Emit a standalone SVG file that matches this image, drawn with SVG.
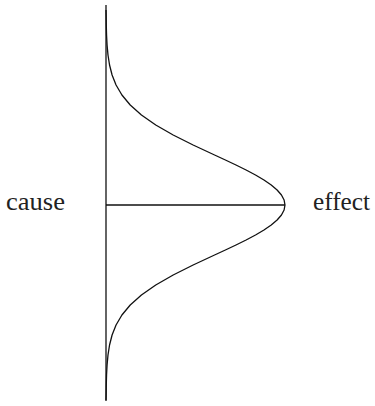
<svg xmlns="http://www.w3.org/2000/svg" width="375" height="406" viewBox="0 0 375 406">
<style>
.ln{fill:none;stroke:#111;stroke-width:1.3;stroke-linejoin:round;stroke-linecap:butt}
.lbl{font-family:"Liberation Serif",serif;font-size:26px;fill:#222}
</style>
<rect width="375" height="406" fill="#fff"/>
<g id="connectors">
<line class="ln" x1="106" y1="5" x2="106" y2="401"/>
<line class="ln" x1="106" y1="205" x2="285" y2="205"/>
<path class="ln" d="M106,10 L106.13,15 L106.27,25 L106.55,35 L107.07,45 L107.99,55 L109.55,65 L112.09,75 L116.05,85 L121.92,95 L130.23,105 L141.43,115 L155.76,125 L173.18,135 L193.13,145 L214.57,155 L225.4,160 L235.98,165 L246.1,170 L255.52,175 L263.97,180 L271.24,185 L277.1,190 L281.46,195 L284.1,200 L285,205 L284.1,210 L281.46,215 L277.1,220 L271.24,225 L263.97,230 L255.52,235 L246.1,240 L235.98,245 L225.4,250 L214.57,255 L193.13,265 L173.18,275 L155.76,285 L141.43,295 L130.23,305 L121.92,315 L116.05,325 L112.09,335 L109.55,345 L107.99,355 L107.07,365 L106.55,375 L106.27,385 L106.13,395 L106,400"/>
</g>
<g id="cause"><text class="lbl" x="6" y="210" textLength="59" lengthAdjust="spacingAndGlyphs">cause</text></g>
<g id="effect"><text class="lbl" x="313" y="210" textLength="57" lengthAdjust="spacingAndGlyphs">effect</text></g>
</svg>
